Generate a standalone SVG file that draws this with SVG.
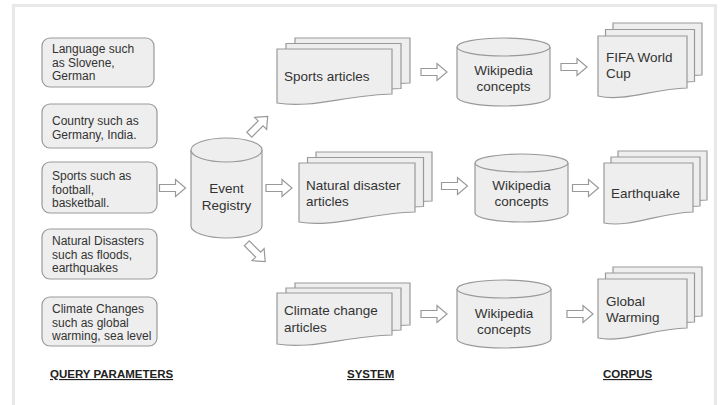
<svg xmlns="http://www.w3.org/2000/svg" xmlns:xlink="http://www.w3.org/1999/xlink" width="724" height="405" viewBox="0 0 724 405">
<style>
.shape{fill:#eeeeee;stroke:#999999;stroke-width:1.2}
.arrow{fill:#ffffff;stroke:#999999;stroke-width:1.2}
.t{font-family:"Liberation Sans",Arial,sans-serif;font-size:12px;fill:#333333}
.tl{font-family:"Liberation Sans",Arial,sans-serif;font-size:13.5px;fill:#333333}
.tc{text-anchor:middle}
.h{font-family:"Liberation Sans",Arial,sans-serif;font-size:11.5px;font-weight:bold;fill:#222222;text-decoration:underline}
</style>
<defs>
<path id="arr" d="M-13,-3.5 H3 V-8.5 L13,0 L3,8.5 V3.5 H-13 Z"/>
</defs>
<rect x="0" y="0" width="724" height="405" fill="#ffffff"/>
<rect x="13.5" y="5.5" width="702" height="410" fill="#ffffff" stroke="#e8e8e8" stroke-width="3"/>

<g id="q-language">
<rect class="shape" x="42" y="38" width="112" height="49" rx="8"/>
<text class="t" x="52" y="53">Language such</text>
<text class="t" x="52" y="66.5">as Slovene,</text>
<text class="t" x="52" y="80">German</text>
</g>
<g id="q-country">
<rect class="shape" x="42" y="104" width="115" height="44" rx="8"/>
<text class="t" x="52" y="125">Country such as</text>
<text class="t" x="52" y="138.5">Germany, India.</text>
</g>
<g id="q-sports">
<rect class="shape" x="42" y="162" width="115" height="51" rx="8"/>
<text class="t" x="52" y="180">Sports such as</text>
<text class="t" x="52" y="193.5">football,</text>
<text class="t" x="52" y="207">basketball.</text>
</g>
<g id="q-natural">
<rect class="shape" x="42" y="229" width="115" height="50" rx="8"/>
<text class="t" x="52" y="245">Natural Disasters</text>
<text class="t" x="52" y="258.5">such as floods,</text>
<text class="t" x="52" y="272">earthquakes</text>
</g>
<g id="q-climate">
<rect class="shape" x="42" y="297" width="115" height="49" rx="8"/>
<text class="t" x="52" y="313">Climate Changes</text>
<text class="t" x="52" y="326.5">such as global</text>
<text class="t" x="52" y="340">warming, sea level</text>
</g>

<g id="event-registry">
<path class="shape" d="M191,150 A35.5,12 0 0 1 262,150 V226 A35.5,12 0 0 1 191,226 Z"/>
<path class="shape" fill="none" d="M191,150 A35.5,12 0 0 0 262,150"/>
<text class="tl tc" x="226.5" y="193">Event</text>
<text class="tl tc" x="226.5" y="210">Registry</text>
</g>

<g id="sports-articles">
<path class="shape" d="M295,38 H410 V83 C364,84 329.5,98 295,92 Z"/>
<path class="shape" d="M286,43.5 H401 V88.5 C355,89.5 320.5,103.5 286,97.5 Z"/>
<path class="shape" d="M277,49 H392 V94 C346,95 311.5,109 277,103 Z"/>
<text class="tl" x="284" y="81">Sports articles</text>
</g>
<g id="natural-articles">
<path class="shape" d="M316,152 H432 V201 C385.6,202 350.8,217 316,211 Z"/>
<path class="shape" d="M307.5,157.5 H423.5 V206.5 C377.1,207.5 342.3,222.5 307.5,216.5 Z"/>
<path class="shape" d="M299,163 H415 V212 C368.6,213 333.8,228 299,222 Z"/>
<text class="tl" x="306" y="190">Natural disaster</text>
<text class="tl" x="306" y="206">articles</text>
</g>
<g id="climate-articles">
<path class="shape" d="M295,283 H410 V325 C364,326 329.5,340 295,334 Z"/>
<path class="shape" d="M286,288 H401 V330 C355,331 320.5,345 286,339 Z"/>
<path class="shape" d="M277,293 H392 V335 C346,336 311.5,350 277,344 Z"/>
<text class="tl" x="284" y="315">Climate change</text>
<text class="tl" x="284" y="332">articles</text>
</g>

<g id="wiki-1">
<path class="shape" d="M457,47 A46.5,9 0 0 1 550,47 V97 A46.5,9 0 0 1 457,97 Z"/>
<path class="shape" fill="none" d="M457,47 A46.5,9 0 0 0 550,47"/>
<text class="tl tc" x="503.5" y="75">Wikipedia</text>
<text class="tl tc" x="503.5" y="91">concepts</text>
</g>
<g id="wiki-2">
<path class="shape" d="M475,163 A46.5,9 0 0 1 568,163 V213 A46.5,9 0 0 1 475,213 Z"/>
<path class="shape" fill="none" d="M475,163 A46.5,9 0 0 0 568,163"/>
<text class="tl tc" x="521.5" y="190">Wikipedia</text>
<text class="tl tc" x="521.5" y="206">concepts</text>
</g>
<g id="wiki-3">
<path class="shape" d="M457,289 A47,9 0 0 1 551,289 V339 A47,9 0 0 1 457,339 Z"/>
<path class="shape" fill="none" d="M457,289 A47,9 0 0 0 551,289"/>
<text class="tl tc" x="504" y="318">Wikipedia</text>
<text class="tl tc" x="504" y="334">concepts</text>
</g>

<g id="fifa">
<path class="shape" d="M613,23 H702 V75 C666.4,76 639.7,89 613,83 Z"/>
<path class="shape" d="M605.5,29.5 H694.5 V81.5 C658.9,82.5 632.2,95.5 605.5,89.5 Z"/>
<path class="shape" d="M598,36 H687 V88 C651.4,89 624.7,102 598,96 Z"/>
<text class="tl" x="606" y="62">FIFA World</text>
<text class="tl" x="606" y="78">Cup</text>
</g>
<g id="earthquake">
<path class="shape" d="M618,151 H707 V200 C671.4,201 644.7,216 618,211 Z"/>
<path class="shape" d="M611,157 H700 V206 C664.4,207 637.7,222 611,217 Z"/>
<path class="shape" d="M604,163 H693 V212 C657.4,213 630.7,228 604,223 Z"/>
<text class="tl" x="611" y="198">Earthquake</text>
</g>
<g id="global-warming">
<path class="shape" d="M613,267 H702 V316 C666.4,317 639.7,331 613,326 Z"/>
<path class="shape" d="M605.5,273 H694.5 V322 C658.9,323 632.2,337 605.5,332 Z"/>
<path class="shape" d="M598,279 H687 V328 C651.4,329 624.7,343 598,338 Z"/>
<text class="tl" x="606" y="306">Global</text>
<text class="tl" x="606" y="322">Warming</text>
</g>

<g id="connectors">
<use href="#arr" class="arrow" transform="translate(172.5,188)"/>
<use href="#arr" class="arrow" transform="translate(279,188)"/>
<use href="#arr" class="arrow" transform="translate(258.5,125.5) rotate(-45)"/>
<use href="#arr" class="arrow" transform="translate(256,252.5) rotate(45)"/>
<use href="#arr" class="arrow" transform="translate(434,72)"/>
<use href="#arr" class="arrow" transform="translate(574,67)"/>
<use href="#arr" class="arrow" transform="translate(454.5,186)"/>
<use href="#arr" class="arrow" transform="translate(585.5,188)"/>
<use href="#arr" class="arrow" transform="translate(434,314)"/>
<use href="#arr" class="arrow" transform="translate(580,314)"/>
</g>

<g id="labels">
<text class="h" x="50" y="378">QUERY PARAMETERS</text>
<text class="h" x="347" y="378">SYSTEM</text>
<text class="h" x="603" y="378">CORPUS</text>
</g>
</svg>
